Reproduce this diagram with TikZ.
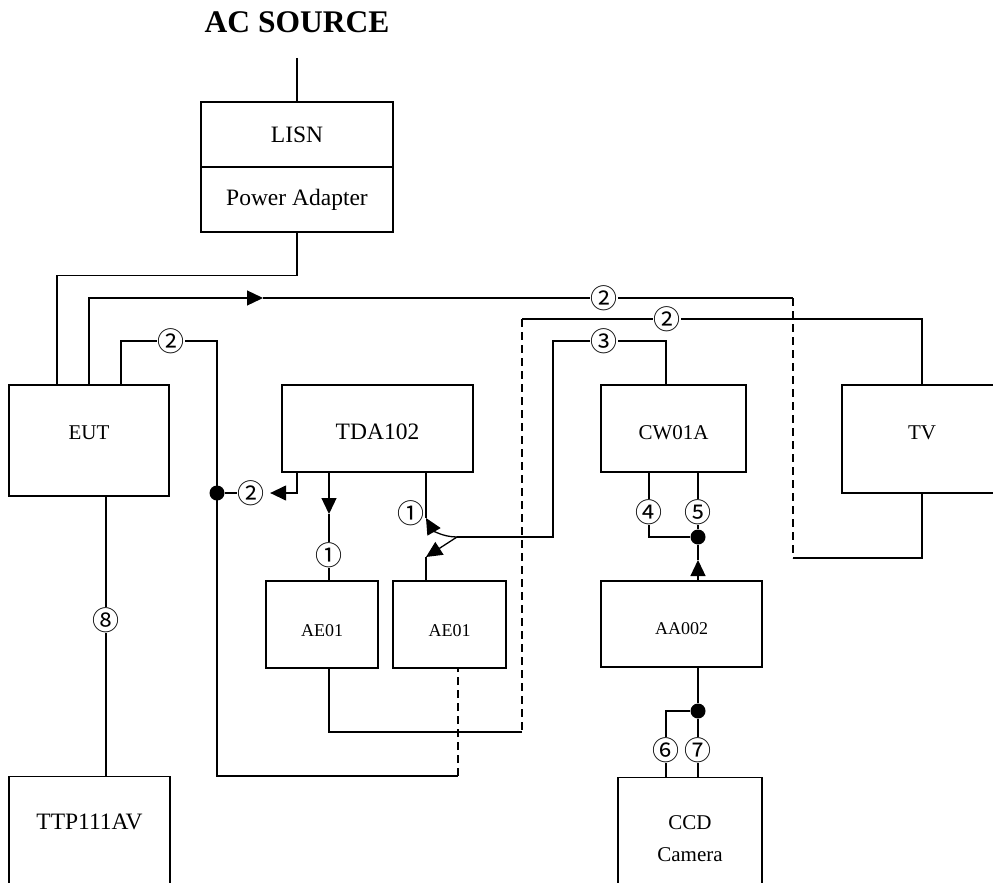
\documentclass[tikz,border=0pt]{standalone}
\usepackage{fontspec}
\setmainfont{Liberation Serif}
\newfontfamily\circfont{Noto Sans CJK SC}
\usepackage{tikz}
\usetikzlibrary{arrows.meta, positioning, calc}

\newcommand{\fbig}{\fontsize{23.5}{28}\selectfont}
\newcommand{\fmid}{\fontsize{21}{32}\selectfont}
\newcommand{\fsmall}{\fontsize{18}{22}\selectfont}

\begin{document}
\begin{tikzpicture}[x=1pt, y=-1pt, line width=1.3pt,
    box/.style={draw, inner sep=0pt},
    num/.style={font=\circfont\fontsize{27}{29}\selectfont, inner sep=0pt},
    dot/.style={circle, fill, inner sep=0pt, minimum size=15pt},
    tip/.style={-{Triangle[length=16pt,width=15pt]}},
    dsh/.style={dash pattern=on 8pt off 5pt}]
    \useasboundingbox (0,0) rectangle (993,883);
    \clip (0,0) rectangle (993,883);

    % boxes
    \node (acsrc) at (297,22) {\fontsize{31.5}{36}\selectfont\bfseries AC SOURCE};
    \node[box, minimum width=192pt, minimum height=65pt, font=\fbig] (lisn) at (297,134.5) {LISN};
    \node[box, minimum width=192pt, minimum height=65pt, font=\fbig] (pwr) at (297,199.5) {Power Adapter};
    \node[box, minimum width=160pt, minimum height=111pt, font=\fmid, text depth=16pt] (eut) at (89,440.5) {EUT};
    \node[box, minimum width=191pt, minimum height=87pt, font=\fbig, text height=22pt] (tda) at (377.5,428.5) {TDA102};
    \node[box, minimum width=145pt, minimum height=87pt, font=\fmid, text height=23pt] (cw) at (673.5,428.5) {CW01A};
    \node[box, minimum width=160pt, minimum height=108pt, font=\fmid, text depth=12pt] (tv) at (922,439) {TV};
    \node[box, minimum width=112pt, minimum height=87pt, font=\fsmall, text height=24pt] (ae1) at (322,624.5) {AE01};
    \node[box, minimum width=113pt, minimum height=87pt, font=\fsmall, text height=24pt] (ae2) at (449.5,624.5) {AE01};
    \node[box, minimum width=161pt, minimum height=86pt, font=\fsmall, text height=22pt] (aa) at (681.5,624) {AA002};
    \node[box, anchor=north, minimum width=161pt, minimum height=140pt] (ttp) at (89.5,776) {};
    \node[font=\fbig] (ttptxt) at (89.5,822) {TTP111AV};
    \node[box, anchor=north, minimum width=144pt, minimum height=140pt] (ccd) at (690,777) {};
    \node[font=\fmid, align=center] (ccdtxt) at (690,839) {CCD\\Camera};

    % leads
    \coordinate (eutL) at ([xshift=-32pt]eut.north);
    \coordinate (eutR) at ([xshift=32pt]eut.north);
    \coordinate (eutB) at ([xshift=17pt]eut.south);
    \coordinate (tdaL) at ([xshift=-80.5pt]tda.south);
    \coordinate (tdaM) at ([xshift=-48.5pt]tda.south);
    \coordinate (tdaR) at ([xshift=48.5pt]tda.south);
    \coordinate (ae1T) at ([xshift=7pt]ae1.north);
    \coordinate (ae1B) at ([xshift=7pt]ae1.south);
    \coordinate (ae2T) at ([xshift=-23.5pt]ae2.north);
    \coordinate (ae2B) at ([xshift=8.5pt]ae2.south);
    \coordinate (cwT) at ([xshift=-7.5pt]cw.north);
    \coordinate (cwL) at ([xshift=-24.5pt]cw.south);
    \coordinate (cwR) at ([xshift=24.5pt]cw.south);
    \coordinate (aaT) at ([xshift=16.5pt]aa.north);
    \coordinate (aaB) at ([xshift=16.5pt]aa.south);
    \coordinate (ttpT) at ([xshift=16.5pt]ttp.north);
    \coordinate (ccdL) at ([xshift=-24pt]ccd.north);
    \coordinate (ccdR) at ([xshift=8pt]ccd.north);

    % cable numbers
    \node[num] (c2top) at (604,298) {②};
    \node[num] (c2tv) at (667,319) {②};
    \node[num] (c2eut) at (171,341) {②};
    \node[num] (c3) at (604,341) {③};
    \node[num] (c2tda) at (251,493) {②};
    \node[num] (c1a) at (329,555) {①};
    \node[num] (c1b) at (411,513) {①};
    \node[num] (c4) at (649,512) {④};
    \node[num] (c5) at (698,512) {⑤};
    \node[num] (c6) at (666,750) {⑥};
    \node[num] (c7) at (698,750) {⑦};
    \node[num] (c8) at (106,620) {⑧};

    \node[dot] (dotl) at (217,493) {};
    \node[dot] (dotcw) at (698,537) {};
    \node[dot] (dotaa) at (698,711) {};

    % bends and free ends
    \coordinate (acend) at (297,58);
    \coordinate (arr1) at (263,298);
    \coordinate (tvlow) at (793,558);
    \coordinate (ae1low) at (522,732);
    \coordinate (bend3) at (553,537);
    \coordinate (fork) at (457,537);
    \coordinate (tdaRend) at (426,518);
    \coordinate (tdaMend) at (329,514);
    \coordinate (ae2Tend) at (426,557);
    \coordinate (aaTend) at (698,560);

    % power
    \draw (acend) -- (lisn.north);
    \draw (pwr.south) -- ++(0,43) -| (eutL);

    % EUT to TV
    \draw[tip] (eut.north) |- (arr1);
    \draw (arr1) -- (c2top.west);
    \draw (c2top.east) -- (c2top.east -| tvlow);
    \draw[dsh] (c2top.east -| tvlow) -- (tvlow);
    \draw (tvlow) -| (tv.south);

    % TV to AE01
    \draw (tv.north) |- (c2tv.east);
    \draw (c2tv.west) -- (c2tv.west -| ae1low);
    \draw[dsh] (c2tv.west -| ae1low) -- (ae1low);
    \draw (ae1low) -| (ae1B);

    % EUT to TDA102 and AE01
    \draw (eutR) |- (c2eut.west);
    \draw (c2eut.east) -| (dotl.center) |- (ae2B |- ttp.north);
    \draw[dsh] (ae2B |- ttp.north) -- (ae2B);
    \draw[tip] (tdaL) |- ([xshift=5pt]c2tda.east);
    \draw (c2tda.west) -- (dotl);

    % TDA102 to AE01
    \draw[tip] (tdaM) -- (tdaMend);
    \draw (tdaMend) -- (c1a.north);
    \draw (c1a.south) -- (ae1T);
    \draw (tdaR) -- (tdaRend);

    % CW01A
    \draw (cwT) |- (c3.east);
    \draw (c3.west) -| (bend3) -- (fork);
    \draw[tip] (fork) to[out=180, in=-60] (tdaRend);
    \draw[tip] (fork) -- (ae2Tend);
    \draw (ae2Tend) -- (ae2T);
    \draw (cwL) -- (c4.north);
    \draw (c4.south) |- (dotcw);
    \draw (cwR) -- (c5.north);
    \draw (c5.south) -- (dotcw);

    % AA002 and camera
    \draw[tip] (aaT) -- (aaTend);
    \draw (aaTend) -- (dotcw);
    \draw (aaB) -- (dotaa);
    \draw (dotaa) -| (c6.north);
    \draw (dotaa) -- (c7.north);
    \draw (c6.south) -- (ccdL);
    \draw (c7.south) -- (ccdR);

    % TTP111AV
    \draw (eutB) -- (c8.north);
    \draw (c8.south) -- (ttpT);
\end{tikzpicture}
\end{document}
